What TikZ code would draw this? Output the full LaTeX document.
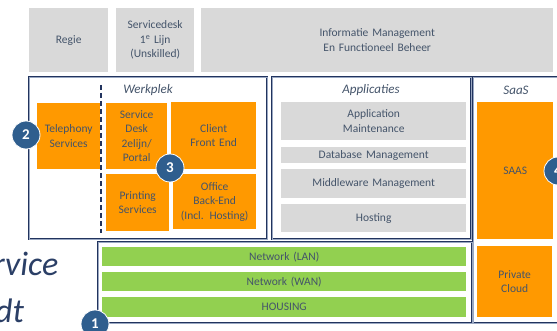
\documentclass[tikz,border=0pt]{standalone}
\usepackage{fontspec}
\setmainfont{Carlito}
\definecolor{txtblue}{HTML}{44546A}
\definecolor{deepblue}{HTML}{2B3F66}
\definecolor{framenavy}{HTML}{22345E}
\definecolor{framelight}{HTML}{9AA8C2}
\definecolor{panelgray}{HTML}{D9D9D9}
\definecolor{orangefill}{HTML}{FF9900}
\definecolor{greenfill}{HTML}{92D050}
\definecolor{badgeblue}{HTML}{2F5E8E}
\newcommand{\boxnode}[7]{%
  \node[#6, anchor=north west, minimum width={(#4-#2)*1pt}, minimum height={(#5-#3)*1pt},
        text width={(#4-#2-4)*1pt}] (#1) at (#2,#3) {#7};}
\tikzset{
  x=1pt, y=-1pt,
  cell/.style={inner sep=0pt, align=center, text=txtblue, font=\fontsize{11.5}{14.5}\selectfont},
  graycell/.style={cell, fill=panelgray},
  orangecell/.style={cell, fill=orangefill},
  greencell/.style={cell, fill=greenfill},
  frame/.style={inner sep=0pt, draw=framenavy, double=framelight, line width=0.7pt, double distance=0.8pt},
  frametitle/.style={text=txtblue, font=\fontsize{13}{14}\selectfont\itshape, inner sep=0pt},
  divider/.style={draw=framenavy, line width=1.3pt, dash pattern=on 5pt off 3pt},
  badge/.style={circle, fill=badgeblue, draw=white, line width=0.8pt, minimum size=28pt, inner sep=0pt,
                text=white, font=\fontsize{15}{15}\selectfont\bfseries},
  bigword/.style={text=deepblue, font=\fontsize{34}{34}\selectfont\itshape, inner sep=0pt, anchor=base west}
}
\begin{document}
\begin{tikzpicture}
\useasboundingbox (0,0) rectangle (557,331);
\clip (0,0) rectangle (557,331);
\fill[white] (0,0) rectangle (557,331);

% top row of management layers
\boxnode{regie}{29}{8}{108}{72}{graycell}{Regie}
\boxnode{sdesk}{116}{8}{194}{72}{graycell}{Servicedesk\\1\textsuperscript{e} Lijn\\(Unskilled)}
\boxnode{infomgmt}{201}{8}{553}{72}{graycell}{Informatie Management\\En Functioneel Beheer}

% frames
\boxnode{werkplek}{29}{77}{267}{239}{frame}{}
\boxnode{applicaties}{272}{77}{471}{239}{frame}{}
\boxnode{saas}{473}{77}{564}{323}{frame}{}
\boxnode{network}{98}{242}{472}{323}{frame}{}

\node[frametitle] (werkplekT) at (148,90) {Werkplek};
\node[frametitle] (applicatiesT) at (371,90) {Applicaties};
\node[frametitle] (saasT) at (516,90) {SaaS};

% werkplek services
\boxnode{telephony}{37}{103}{100}{169}{orangecell}{Telephony\\Services}
\boxnode{sd2}{106}{103}{167}{169}{orangecell}{Service\\Desk\\2elijn/\\Portal}
\boxnode{client}{171}{102}{256}{169}{orangecell}{Client\\Front End}
\boxnode{printing}{106}{174}{169}{231}{orangecell}{Printing\\Services}
\boxnode{office}{173}{174}{256}{229}{orangecell}{Office\\Back-End\\(Incl. Hosting)}

\coordinate (divTop) at (101,85);
\coordinate (divBot) at (101,233);
\draw[divider] (divTop) -- (divBot);

% application layers
\boxnode{appmaint}{281}{102}{466}{140}{graycell}{Application\\Maintenance}
\boxnode{dbmgmt}{281}{147}{466}{163}{graycell}{Database Management}
\boxnode{mwmgmt}{281}{169}{466}{198}{graycell}{Middleware Management}
\boxnode{hosting}{281}{204}{466}{232}{graycell}{Hosting}

% cloud
\boxnode{saasbox}{477}{102}{553}{239}{orangecell}{SAAS}
\boxnode{private}{477}{246}{552}{317}{orangecell}{Private\\Cloud}

% infrastructure
\boxnode{lan}{102}{247}{466}{266}{greencell}{Network (LAN)}
\boxnode{wan}{102}{272}{466}{291}{greencell}{Network (WAN)}
\boxnode{housing}{102}{297}{466}{317}{greencell}{HOUSING}

% large side text, running off the left edge
\node[bigword] (word1) at (-7,276) {rvice};
\node[bigword] (word2) at (-5,322) {dt};

% numbered badges
\node[badge] (b1) at (95,324) {1};
\node[badge] (b2) at (26,135) {2};
\node[badge] (b3) at (170,168) {3};
\node[badge] (b4) at (558,171) {4};
\end{tikzpicture}
\end{document}
